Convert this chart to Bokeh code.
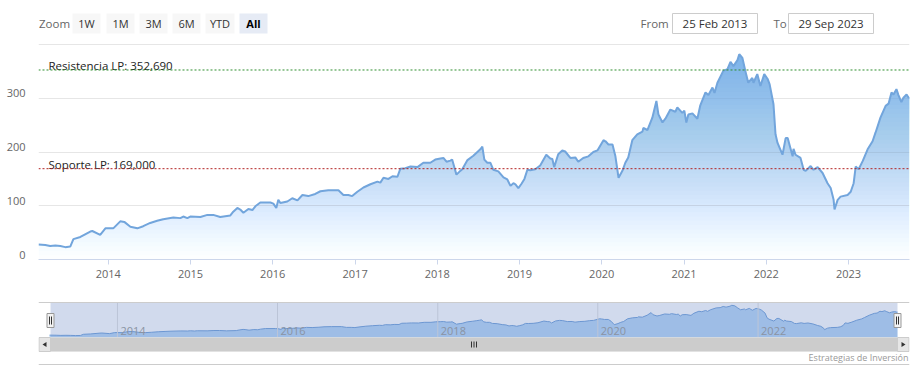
import numpy as np
import pandas as pd
from bokeh.plotting import figure
from bokeh.layouts import column
from bokeh.models import Range1d, FixedTicker, DatetimeTickFormatter, Span
from bokeh.core.properties import value
from bokeh.embed import file_html
from bokeh.resources import INLINE

# ---------------- data ----------------
dates = [
    "2013-02-25", "2013-03-27", "2013-04-18", "2013-05-11", "2013-06-02", "2013-06-24",
    "2013-07-16", "2013-07-30", "2013-08-30", "2013-10-13", "2013-10-22", "2013-11-26",
    "2013-12-19", "2014-01-23", "2014-02-23", "2014-03-13", "2014-04-09", "2014-05-10",
    "2014-06-05", "2014-07-06", "2014-08-06", "2014-09-02", "2014-10-17", "2014-11-17",
    "2014-11-30", "2014-12-18", "2014-12-31", "2015-02-14", "2015-03-17", "2015-04-12",
    "2015-05-13", "2015-06-27", "2015-07-10", "2015-07-28", "2015-08-10", "2015-08-24",
    "2015-09-15", "2015-10-03", "2015-10-16", "2015-11-07", "2015-12-22", "2016-01-04",
    "2016-01-17", "2016-01-26", "2016-02-04", "2016-03-06", "2016-03-28", "2016-04-20",
    "2016-05-12", "2016-06-07", "2016-07-08", "2016-07-31", "2016-09-04", "2016-10-19",
    "2016-11-10", "2016-12-02", "2016-12-19", "2017-01-11", "2017-02-07", "2017-03-10",
    "2017-04-10", "2017-04-23", "2017-05-07", "2017-05-29", "2017-06-16", "2017-07-08",
    "2017-07-21", "2017-08-12", "2017-09-04", "2017-10-05", "2017-10-31", "2017-12-01",
    "2017-12-23", "2018-01-15", "2018-01-28", "2018-02-11", "2018-02-28", "2018-03-08",
    "2018-03-27", "2018-04-13", "2018-04-22", "2018-05-15", "2018-06-10", "2018-06-28",
    "2018-07-11", "2018-07-20", "2018-07-29", "2018-08-11", "2018-08-25", "2018-09-07",
    "2018-09-29", "2018-10-22", "2018-11-08", "2018-11-22", "2018-12-05", "2018-12-14",
    "2018-12-27", "2019-01-10", "2019-01-23", "2019-02-05", "2019-02-18", "2019-03-12",
    "2019-04-03", "2019-04-30", "2019-05-18", "2019-05-27", "2019-06-04", "2019-06-22",
    "2019-07-10", "2019-07-23", "2019-08-15", "2019-09-06", "2019-09-19", "2019-10-11",
    "2019-11-03", "2019-11-25", "2019-12-13", "2020-01-09", "2020-01-18", "2020-01-31",
    "2020-02-18", "2020-03-02", "2020-03-16", "2020-04-02", "2020-04-15", "2020-04-28",
    "2020-05-16", "2020-06-07", "2020-06-30", "2020-07-04", "2020-07-22", "2020-08-13",
    "2020-08-31", "2020-09-09", "2020-09-27", "2020-10-10", "2020-11-01", "2020-11-23",
    "2020-12-02", "2020-12-24", "2021-01-02", "2021-01-11", "2021-01-20", "2021-02-07",
    "2021-03-01", "2021-03-14", "2021-04-06", "2021-04-19", "2021-05-07", "2021-05-16",
    "2021-05-29", "2021-06-24", "2021-07-12", "2021-07-26", "2021-08-08", "2021-08-26",
    "2021-09-03", "2021-09-17", "2021-09-30", "2021-10-13", "2021-10-31", "2021-11-05",
    "2021-11-22", "2021-12-06", "2021-12-23", "2022-01-07", "2022-01-16", "2022-02-02",
    "2022-02-11", "2022-02-20", "2022-03-14", "2022-03-28", "2022-04-06", "2022-04-28",
    "2022-05-02", "2022-05-11", "2022-06-02", "2022-06-16", "2022-06-25", "2022-07-17",
    "2022-07-30", "2022-08-17", "2022-09-08", "2022-09-30", "2022-10-14", "2022-10-27",
    "2022-10-31", "2022-11-14", "2022-11-27", "2022-12-28", "2023-01-11", "2023-01-24",
    "2023-02-02", "2023-02-15", "2023-03-05", "2023-03-27", "2023-04-18", "2023-05-01",
    "2023-05-23", "2023-06-15", "2023-06-28", "2023-07-11", "2023-07-20", "2023-08-02",
    "2023-08-11", "2023-08-24", "2023-09-02", "2023-09-16", "2023-09-25", "2023-09-29",
]
prices = [
    28, 27, 25, 26, 25, 23,
    24, 38, 42, 52, 53, 46,
    58, 58, 71, 70, 61, 58,
    62, 68, 72, 75, 78, 77,
    80, 77, 80, 79, 83, 83,
    79, 82, 89, 96, 93, 87,
    94, 92, 99, 106, 106, 104,
    96, 111, 105, 108, 114, 110,
    120, 118, 122, 127, 129, 129,
    120, 120, 118, 126, 134, 140,
    145, 143, 152, 150, 155, 154,
    169, 170, 173, 172, 180, 180,
    186, 188, 189, 182, 184, 186,
    158, 165, 168, 185, 193, 200,
    205, 210, 186, 180, 180, 167,
    164, 153, 149, 137, 142, 140,
    133, 141, 150, 167, 166, 168,
    175, 195, 188, 187, 172, 196,
    203, 201, 189, 190, 182, 189,
    192, 200, 203, 222, 220, 214,
    214, 192, 152, 165, 180, 190,
    222, 233, 238, 245, 241, 264,
    295, 270, 255, 262, 279, 275,
    283, 273, 277, 255, 270, 272,
    262, 287, 311, 306, 320, 310,
    329, 351, 354, 368, 360, 371,
    382, 375, 351, 329, 338, 329,
    345, 323, 345, 336, 326, 289,
    233, 217, 195, 226, 226, 192,
    206, 195, 189, 167, 165, 174,
    167, 172, 161, 142, 133, 111,
    93, 111, 117, 120, 126, 142,
    173, 168, 183, 205, 220, 236,
    264, 286, 290, 311, 307, 317,
    306, 293, 301, 307, 301, 302,
]
resistance = 352.69
support = 169.0
resistance_label = "Resistencia LP: 352,690"
support_label = "Soporte LP: 169,000"
year_ticks = ["2014-01-01", "2015-01-01", "2016-01-01", "2017-01-01", "2018-01-01",
              "2019-01-01", "2020-01-01", "2021-01-01", "2022-01-01", "2023-01-01"]
y_ticks = [0, 100, 200, 300]
y_tick_labels = ["0", "100", "200", "300"]
y_grid = [0, 100, 200, 300, 400]
nav_years = ["2014-01-01", "2016-01-01", "2018-01-01", "2020-01-01", "2022-01-01"]
nav_labels = ["2014", "2016", "2018", "2020", "2022"]
zoom_buttons = ["1W", "1M", "3M", "6M", "YTD", "All"]
from_date = "25 Feb 2013"
to_date = "29 Sep 2023"
credits_text = "Estrategias de Inversión"

FONT = "Open Sans"
W = 920
FL, FR = 38, 909          # common frame left/right (page pixels)


def ms(d):
    return (pd.Timestamp(d) - pd.Timestamp("1970-01-01")).total_seconds() * 1000.0


xms = np.array([ms(d) for d in dates])
v = np.array(prices, dtype=float)
t0, t1 = xms[0], xms[-1]


def screen_fig(h):
    f = figure(width=W, height=h, x_range=Range1d(FL, FR), y_range=Range1d(h, 0),
               output_backend="svg", toolbar_location=None,
               min_border_left=FL, min_border_right=W - FR, min_border_top=0, min_border_bottom=0,
               x_axis_location=None, y_axis_location=None)
    f.grid.visible = False
    f.outline_line_color = None
    f.background_fill_color = "white"
    f.border_fill_color = "white"
    return f


# ---------------- header (range selector / inputs) ----------------
HH = 41
hdr = screen_fig(HH)
b_left = [72, 106, 139, 172, 205, 239]
b_right = [100, 134, 167, 200, 234, 267]
b_fill = ["#f7f7f7"] * 5 + ["#e6ebf5"]
hdr.quad(left=b_left, right=b_right, top=13, bottom=33, fill_color=b_fill, line_color=None)
b_cx = [(a + b) / 2 for a, b in zip(b_left, b_right)]
hdr.text(x=b_cx[:5], y=23, text=zoom_buttons[:5], text_align="center", text_baseline="middle",
         text_font=value(FONT), text_font_size="11px", text_color="#333333")
hdr.text(x=b_cx[5:], y=23, text=zoom_buttons[5:], text_align="center", text_baseline="middle",
         text_font=value(FONT), text_font_size="11px", text_color="#000000", text_font_style="bold")
hdr.text(x=[38.5], y=23, text=["Zoom"], text_align="left", text_baseline="middle",
         text_font=value(FONT), text_font_size="11.5px", text_color="#666666")
hdr.text(x=[640, 773], y=23, text=["From", "To"], text_align="left", text_baseline="middle",
         text_font=value(FONT), text_font_size="11.5px", text_color="#666666")
hdr.quad(left=[672, 788], right=[757, 873], top=13, bottom=33, fill_color="white",
         line_color="#cccccc", line_width=1)
hdr.text(x=[714.5, 830.5], y=23, text=[from_date, to_date], text_align="center",
         text_baseline="middle", text_font=value(FONT), text_font_size="11.5px",
         text_color="#333333")

# ---------------- main chart ----------------
MH = 244
main = figure(width=W, height=MH, x_axis_type="datetime",
              x_range=Range1d(t0, t1), y_range=Range1d(0, 402),
              output_backend="svg", toolbar_location=None,
              min_border_left=FL, min_border_right=W - FR, min_border_top=2, min_border_bottom=26)
main.outline_line_color = None
main.background_fill_color = "white"
main.border_fill_color = "white"
main.xgrid.visible = False
main.ygrid.ticker = FixedTicker(ticks=y_grid)
main.ygrid.grid_line_color = "#e6e6e6"

xa = main.xaxis[0]
xa.ticker = FixedTicker(ticks=[ms(d) for d in year_ticks])
xa.formatter = DatetimeTickFormatter(years="%Y", months="%Y", days="%Y", hours="%Y")
xa.axis_line_color = "#ccd6eb"
xa.major_tick_line_color = "#ccd6eb"
xa.major_tick_out = 5
xa.major_tick_in = 0
xa.minor_tick_line_color = None
xa.major_label_standoff = 5
xa.major_label_text_font = FONT
xa.major_label_text_font_size = "11px"
xa.major_label_text_color = "#666666"

# y labels sit a few pixels above their grid lines, as in the reference
lift = 9
ya = main.yaxis[0]
ya.ticker = FixedTicker(ticks=[t + lift for t in y_ticks])
ya.major_label_overrides = {t + lift: s for t, s in zip(y_ticks, y_tick_labels)}
ya.axis_line_color = None
ya.major_tick_line_color = None
ya.major_tick_out = 0
ya.major_tick_in = 0
ya.minor_tick_line_color = None
ya.minor_tick_out = 0
ya.major_label_standoff = 13
ya.major_label_text_font = FONT
ya.major_label_text_font_size = "11px"
ya.major_label_text_color = "#666666"

# gradient-like area: stacked translucent layers from each level up to the series
peak = float(v.max())
step = 8.0
levels = np.arange(0, 400, step)
A = 0.97
prev = 0.0
for lo in levels:
    target = A * min(1.0, (lo + step / 2) / peak)
    a = 1.0 - (1.0 - target) / (1.0 - prev) if prev < 1 else 0.0
    prev = target
    if a <= 0:
        continue
    main.varea(x=xms, y1=np.minimum(v, lo), y2=v, fill_color="#7cb5ec", fill_alpha=float(a))

main.line(x=xms, y=v, line_color="#72a5dc", line_width=2)

main.add_layout(Span(location=resistance, dimension="width", line_color="#2f8f2f",
                     line_dash="2 2", line_width=1))
main.add_layout(Span(location=support, dimension="width", line_color="#b22222",
                     line_dash="2 2", line_width=1))
main.text(x=[t0, t0], y=[resistance, support], text=[resistance_label, support_label],
          x_offset=10, y_offset=-4, text_align="left", text_baseline="alphabetic",
          text_font=value(FONT), text_font_size="11.5px", text_color="#222222")

# ---------------- navigator + scrollbar + credits ----------------
NH = 94
TOP = 285
nav = screen_fig(NH)

nl, nr = 49.0, 897.0           # navigator pixel span
ntop, nbot = 302 - TOP, 337 - TOP
nmax = 415.0
per_px = (t1 - t0) / (nr - nl)
u = nmax / (nbot - ntop)
nav.extra_x_ranges = {"navx": Range1d(t0 - (nl - FL) * per_px, t0 + (FR - nl) * per_px)}
nav.extra_y_ranges = {"navy": Range1d(-(NH - nbot) * u, nmax + ntop * u)}

nav.varea(x=xms, y1=0, y2=v, fill_color="#7cb5ec", fill_alpha=0.55,
          x_range_name="navx", y_range_name="navy")
nav.line(x=xms, y=v, line_color="#6f9fd8", line_width=1,
         x_range_name="navx", y_range_name="navy")
ny = [ms(d) for d in nav_years]
nav.segment(x0=ny, x1=ny, y0=0, y1=nmax, line_color="#e0e0e0", line_width=1,
            x_range_name="navx", y_range_name="navy")
# selection mask
nav.quad(left=nl + 1, right=nr, top=ntop, bottom=nbot, fill_color="#6685c2", fill_alpha=0.3,
         line_color=None)
nav.text(x=ny, y=330.5 - TOP, text=nav_labels, x_offset=3, text_align="left",
         text_baseline="middle", text_font=value(FONT), text_font_size="11px",
         text_color="#8a93a3", x_range_name="navx")
# outline
nav.segment(x0=FL, x1=FR, y0=ntop, y1=ntop, line_color="#cccccc", line_width=1)
# handles
for hx in (50.0, 897.0):
    nav.quad(left=hx - 3.5, right=hx + 3.5, top=313 - TOP, bottom=327 - TOP,
             fill_color="#f2f2f2", line_color="#999999", line_width=1)
    nav.segment(x0=[hx - 1, hx + 1], x1=[hx - 1, hx + 1], y0=316 - TOP, y1=324 - TOP,
                line_color="#333333", line_width=1)
# scrollbar
sb_t, sb_b = 337 - TOP, 351 - TOP
nav.quad(left=FL, right=FR, top=sb_t, bottom=sb_b, fill_color="#f2f2f2", line_color=None)
nav.quad(left=50, right=897, top=sb_t, bottom=sb_b, fill_color="#cccccc", line_color=None)
nav.quad(left=[FL + 0.5, 897], right=[50, FR - 0.5], top=sb_t, bottom=sb_b, fill_color="#e6e6e6",
         line_color="#cccccc", line_width=1)
cy = (sb_t + sb_b) / 2
nav.patches(xs=[[42, 46, 46], [905, 901, 901]], ys=[[cy, cy - 2.5, cy + 2.5], [cy, cy - 2.5, cy + 2.5]],
            fill_color="#333333", line_color=None)
gx = (50 + 897) / 2
nav.segment(x0=[gx - 2.5, gx, gx + 2.5], x1=[gx - 2.5, gx, gx + 2.5], y0=cy - 3, y1=cy + 3,
            line_color="#333333", line_width=1)
# credits + bottom rule
nav.text(x=[908], y=[357 - TOP], text=[credits_text], text_align="right", text_baseline="middle",
         text_font=value(FONT), text_font_size="9px", text_color="#999999")
nav.segment(x0=FL, x1=FR, y0=364 - TOP, y1=364 - TOP, line_color="#cccccc", line_width=1)

layout = column(hdr, main, nav, spacing=0)
open("out.html", "w").write(file_html(layout, INLINE))
